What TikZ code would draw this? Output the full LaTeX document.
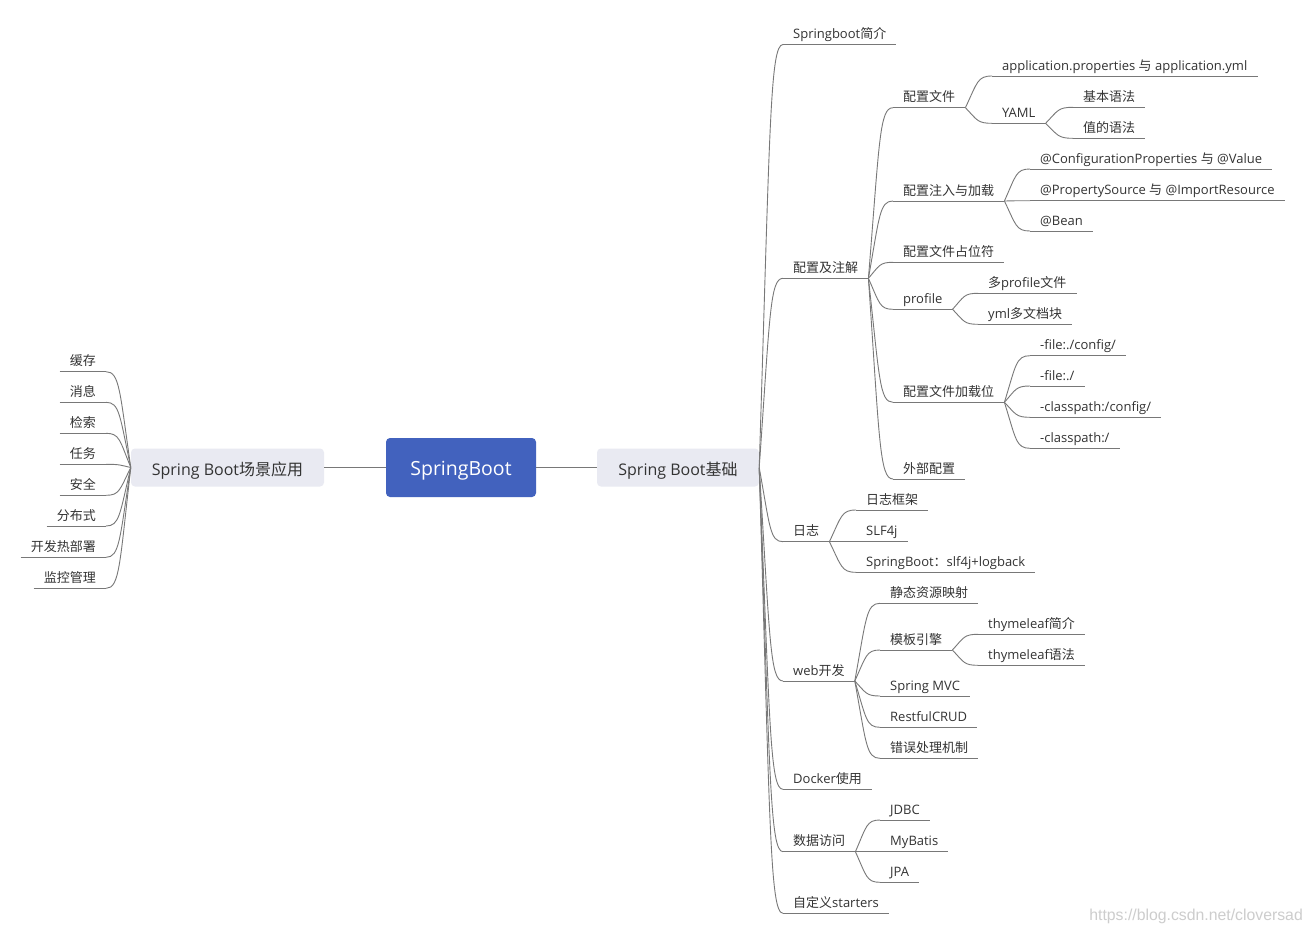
\documentclass[tikz,border=0pt]{standalone}
\usepackage{fontspec}
\setmainfont{Open Sans}
\newfontfamily\cjk{Noto Sans CJK SC}
\newfontfamily\wmfont{Liberation Sans}
\usetikzlibrary{calc}
\definecolor{rootfill}{RGB}{66,98,190}
\definecolor{boxfill}{RGB}{233,234,242}
\definecolor{txtcol}{RGB}{51,51,51}
\definecolor{linecol}{RGB}{120,120,120}
\definecolor{wmcol}{RGB}{205,205,205}
\newcommand\zh[1]{{\cjk #1}}
\newcommand\branch[2]{\draw[conn] let \p1=(#1), \p2=(#2) in (\p1) .. controls ({\x1+0.45*(\x2-\x1)},{\y1+0.8*(\y2-\y1)}) and ({\x1+0.45*(\x2-\x1)},{\y2}) .. (\p2);}
\tikzset{
  conn/.style={draw=linecol, line width=0.9pt},
  uline/.style={draw=linecol, line width=0.9pt},
  rootbox/.style={rounded corners=4pt, fill=rootfill, text=white, font=\fontsize{19.5}{23}\selectfont, minimum width=150pt, minimum height=59pt, inner sep=0pt, text height=15pt, text depth=0pt},
  mainbox/.style={rounded corners=4pt, fill=boxfill, text=txtcol, font=\fontsize{16}{19}\selectfont, minimum height=38pt, inner sep=0pt, text height=15pt, text depth=0pt},
  leaf/.style={font=\fontsize{13}{15}\selectfont, text=txtcol, inner xsep=10pt, inner ysep=3.3pt, text height=9.5pt, text depth=2.5pt},
  R/.style={leaf, anchor=south west},
  L/.style={leaf, anchor=south east}
}
\begin{document}
\begin{tikzpicture}[x=1pt,y=-1pt]
\fill[white] (0,0) rectangle (1311,935);
\useasboundingbox (0,0) rectangle (1311,935);

% central and main boxes
\node[rootbox] (root) at (461,467.5) {SpringBoot};
\node[mainbox, minimum width=193pt] (lb) at (227.5,467.5) {Spring Boot\zh{场景应用}};
\node[mainbox, minimum width=162pt] (rb) at (678,467.5) {Spring Boot\zh{基础}};
\draw[conn] (lb.east) -- (root.west);
\draw[conn] (root.east) -- (rb.west);

% left leaves
\node[L] (L1) at (106,371.7) {\zh{缓存}};
\node[L] (L2) at (106,402.3) {\zh{消息}};
\node[L] (L3) at (106,433.3) {\zh{检索}};
\node[L] (L4) at (106,464.3) {\zh{任务}};
\node[L] (L5) at (106,495.3) {\zh{安全}};
\node[L] (L6) at (106,526) {\zh{分布式}};
\node[L] (L7) at (106,557.3) {\zh{开发热部署}};
\node[L] (L8) at (106,588.3) {\zh{监控管理}};

% right level 2
\node[R] (s1) at (783,44.5) {Springboot\zh{简介}};
\node[R] (s2) at (783,278.3) {\zh{配置及注解}};
\node[R] (s3) at (783,541.7) {\zh{日志}};
\node[R] (s4) at (783,681) {web\zh{开发}};
\node[R] (s5) at (783,789.3) {Docker\zh{使用}};
\node[R] (s6) at (783,851.7) {\zh{数据访问}};
\node[R] (s7) at (783,913.3) {\zh{自定义}starters};

% under 配置及注解
\node[R] (c1) at (893,107.7) {\zh{配置文件}};
\node[R] (c2) at (893,201) {\zh{配置注入与加载}};
\node[R] (c3) at (893,262.3) {\zh{配置文件占位符}};
\node[R] (c4) at (893,309.3) {profile};
\node[R] (c5) at (893,402.3) {\zh{配置文件加载位}};
\node[R] (c6) at (893,479) {\zh{外部配置}};

\node[R] (c11) at (992,76) {application.properties \zh{与} application.yml};
\node[R] (c12) at (992,123.3) {YAML};
\node[R] (c121) at (1073,107.3) {\zh{基本语法}};
\node[R] (c122) at (1073,138.3) {\zh{值的语法}};

\node[R] (c21) at (1030,169) {@ConfigurationProperties \zh{与} @Value};
\node[R] (c22) at (1030,200.7) {@PropertySource \zh{与} @ImportResource};
\node[R] (c23) at (1030,231) {@Bean};

\node[R] (c41) at (978,293.3) {\zh{多}profile\zh{文件}};
\node[R] (c42) at (978,324.3) {yml\zh{多文档块}};

\node[R] (c51) at (1030,355.7) {-file:./config/};
\node[R] (c52) at (1030,386) {-file:./};
\node[R] (c53) at (1030,417.3) {-classpath:/config/};
\node[R] (c54) at (1030,448.3) {-classpath:/};

% under 日志
\node[R] (l1) at (856,510) {\zh{日志框架}};
\node[R] (l2) at (856,541.7) {SLF4j};
\node[R] (l3) at (856,572.3) {SpringBoot\zh{：}slf4j+logback};

% under web开发
\node[R] (w1) at (880,603.3) {\zh{静态资源映射}};
\node[R] (w2) at (880,650) {\zh{模板引擎}};
\node[R] (w3) at (880,696) {Spring MVC};
\node[R] (w4) at (880,727.3) {RestfulCRUD};
\node[R] (w5) at (880,758.3) {\zh{错误处理机制}};
\node[R] (w21) at (978,634.3) {thymeleaf\zh{简介}};
\node[R] (w22) at (978,665.3) {thymeleaf\zh{语法}};

% under 数据访问
\node[R] (d1) at (880,820) {JDBC};
\node[R] (d2) at (880,851.7) {MyBatis};
\node[R] (d3) at (880,882.3) {JPA};

% underlines
\foreach \nd in {L1,L2,L3,L4,L5,L6,L7,L8,s1,s2,s3,s4,s5,s6,s7,c1,c2,c3,c4,c5,c6,c11,c12,c121,c122,c21,c22,c23,c41,c42,c51,c52,c53,c54,l1,l2,l3,w1,w2,w3,w4,w5,w21,w22,d1,d2,d3}
  {\draw[uline] (\nd.south west) -- (\nd.south east);}

% connectors left
\foreach \nd in {L1,L2,L3,L4,L5,L6,L7,L8} {\branch{lb.west}{\nd.south east}}
% connectors right
\foreach \nd in {s1,s2,s3,s4,s5,s6,s7} {\branch{rb.east}{\nd.south west}}
\foreach \nd in {c1,c2,c3,c4,c5,c6} {\branch{s2.south east}{\nd.south west}}
\foreach \nd in {c11,c12} {\branch{c1.south east}{\nd.south west}}
\foreach \nd in {c121,c122} {\branch{c12.south east}{\nd.south west}}
\foreach \nd in {c21,c22,c23} {\branch{c2.south east}{\nd.south west}}
\foreach \nd in {c41,c42} {\branch{c4.south east}{\nd.south west}}
\foreach \nd in {c51,c52,c53,c54} {\branch{c5.south east}{\nd.south west}}
\foreach \nd in {l1,l2,l3} {\branch{s3.south east}{\nd.south west}}
\foreach \nd in {w1,w2,w3,w4,w5} {\branch{s4.south east}{\nd.south west}}
\foreach \nd in {w21,w22} {\branch{w2.south east}{\nd.south west}}
\foreach \nd in {d1,d2,d3} {\branch{s6.south east}{\nd.south west}}

% watermark
\node[anchor=east, font=\wmfont\fontsize{15.8}{18}\selectfont, text=wmcol, inner sep=0pt] (wm) at (1303,916) {https://blog.csdn.net/cloversad};
\end{tikzpicture}
\end{document}
